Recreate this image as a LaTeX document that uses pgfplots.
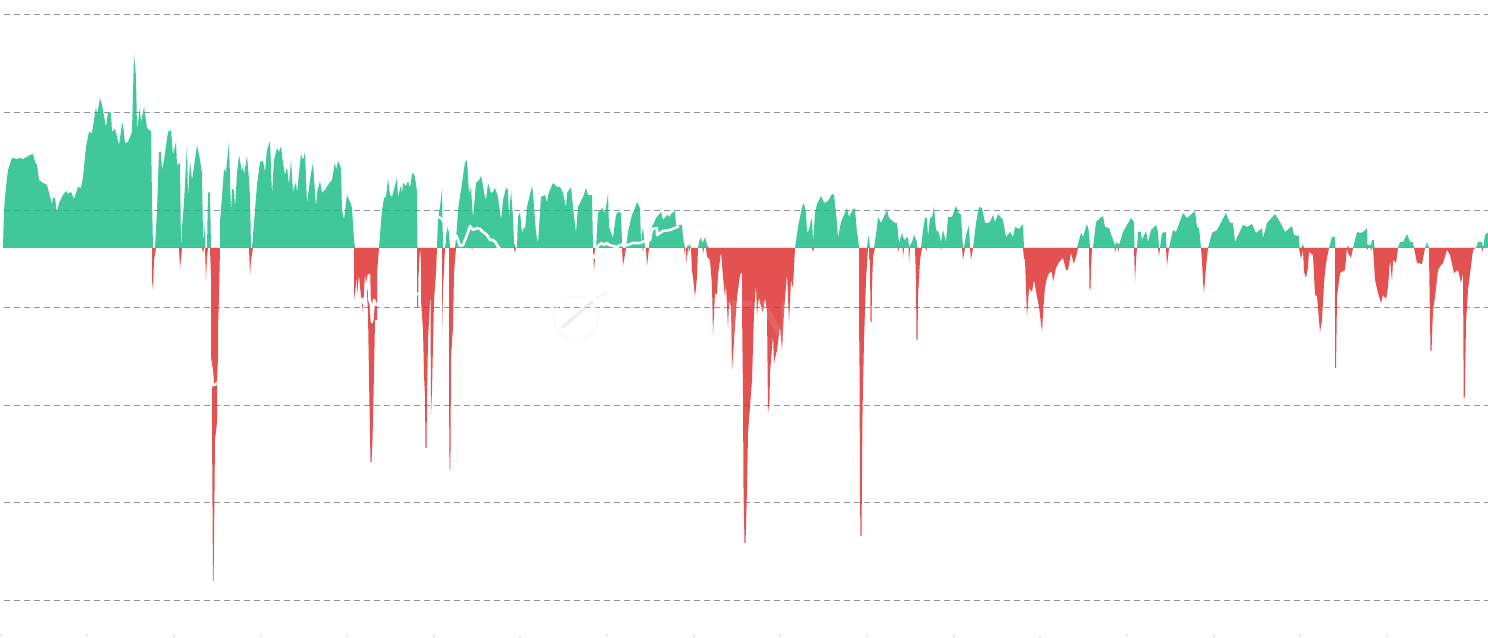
\documentclass[border=0pt]{standalone}
\usepackage{pgfplots}
\usepackage{pgfplotstable}
\usepackage{fontspec}
\setmainfont{Liberation Sans}
\pgfplotsset{compat=1.18}
\definecolor{upc}{HTML}{10B981}
\definecolor{downc}{HTML}{DC2626}
% x = pixel column, r = pixel row of the envelope (baseline at row 248)
\pgfplotstableread[row sep=crcr]{
x r\\
3 248\\ 4 210\\ 6 187\\ 8 170\\ 12 158\\ 17 159\\ 20 158\\ 23 159\\ 27 157\\ 30 155\\ 33 154\\ 35 162\\ 37 165\\ 39 180\\ 43 183\\ 47 185\\ 49 193\\ 52 204\\ 53 198\\ 55 198\\ 57 213\\ 59 203\\ 63 195\\ 66 191\\ 68 194\\ 71 192\\ 74 199\\ 78 187\\ 81 188\\ 83 177\\ 86 147\\ 89 132\\ 92 133\\ 96 107\\ 97 115\\ 100 98\\ 102 105\\ 106 127\\ 108 112\\ 111 113\\ 112 132\\ 115 129\\ 119 145\\ 122 124\\ 123 124\\ 125 143\\ 128 142\\ 132 132\\ 134 54\\ 136 77\\ 137 129\\ 140 108\\ 141 122\\ 144 107\\ 147 128\\ 149 130\\ 151 131\\ 152 200\\ 153 248\\
155 248\\ 157 210\\ 159 152\\ 161 152\\ 162 170\\ 164 160\\ 168 132\\ 171 130\\ 173 155\\ 176 142\\ 177 165\\ 180 163\\ 181 248\\ 182 227\\ 184 203\\ 187 145\\ 188 197\\ 190 162\\ 192 180\\ 197 145\\ 200 160\\ 202 173\\ 203 237\\ 204 237\\ 205 220\\ 205.5 248\\ 207 248\\ 208 193\\ 210 192\\ 211 248\\
220 248\\ 220 222\\ 223 183\\ 224 169\\ 226 172\\ 229 142\\ 231 213\\ 232 189\\ 234 190\\ 235 208\\ 237 173\\ 239 155\\ 242 172\\ 243 164\\ 244 175\\ 247 156\\ 249 180\\ 250 197\\ 251 248\\
252 248\\ 254 223\\ 257 185\\ 260 162\\ 263 161\\ 265 172\\ 267 150\\ 270 141\\ 272 195\\ 274 160\\ 277 148\\ 279 152\\ 281 146\\ 283 163\\ 285 175\\ 287 167\\ 289 185\\ 291 160\\ 293 192\\ 296 182\\ 297 193\\ 301 154\\ 303 160\\ 305 152\\ 307 203\\ 311 173\\ 313 163\\ 316 207\\ 317 193\\ 320 181\\ 322 193\\ 325 190\\ 328 185\\ 332 180\\ 335 162\\ 336 170\\ 338 161\\ 341 168\\ 342 210\\ 344 220\\ 347 195\\ 350 202\\ 352 208\\ 354 240\\ 355 248\\
379 248\\ 382 210\\ 384 198\\ 386 197\\ 388 179\\ 390 195\\ 392 197\\ 397 178\\ 398 197\\ 401 185\\ 402 194\\ 403 183\\ 406 186\\ 408 181\\ 410 188\\ 412 174\\ 413 173\\ 415 177\\ 417 192\\ 417.5 248\\
437 248\\ 438 218\\ 440 207\\ 442 189\\ 442.5 217\\ 443 248\\ 445 248\\ 446 237\\ 447 227\\ 449 232\\ 450 248\\
455 248\\ 457 227\\ 458 210\\ 462 183\\ 465 162\\ 467 160\\ 469 193\\ 471 188\\ 473 218\\ 476 183\\ 479 180\\ 481 176\\ 483 185\\ 484 193\\ 486 200\\ 488 183\\ 491 193\\ 493 192\\ 495 188\\ 498 197\\ 501 220\\ 503 200\\ 506 188\\ 508 190\\ 509 218\\ 511 190\\ 513 217\\ 514 243\\ 516 248\\
517 248\\ 518 217\\ 520 212\\ 522 233\\ 524 227\\ 525 230\\ 527 207\\ 532 186\\ 533 193\\ 536 233\\ 538 243\\ 541 197\\ 545 195\\ 547 203\\ 548 195\\ 553 183\\ 557 187\\ 560 187\\ 563 193\\ 566 207\\ 567 193\\ 571 187\\ 573 207\\ 576 233\\ 578 207\\ 583 197\\ 586 188\\ 588 195\\ 592 195\\ 593 248\\
596 248\\ 598 213\\ 602 208\\ 605 213\\ 608 194\\ 609 227\\ 613 238\\ 616 215\\ 618 212\\ 621 213\\ 622 243\\ 623 248\\ 626 248\\ 628 232\\ 632 215\\ 635 208\\ 637 202\\ 640 208\\ 641 243\\ 643 227\\ 645 248\\
649 248\\ 650 230\\ 654 223\\ 656 218\\ 661 212\\ 663 220\\ 667 215\\ 669 217\\ 672 213\\ 675 211\\ 676 225\\ 682 225\\ 683 237\\ 685 248\\ 687 248\\ 688 244\\ 689 247\\ 690 244\\ 691 248\\
698 248\\ 699 242\\ 701 237\\ 702 243\\ 704 240\\ 705 237\\ 707 245\\ 709 248\\
795 248\\ 798 227\\ 802 207\\ 804 203\\ 806 213\\ 807 232\\ 809 230\\ 811 220\\ 812 219\\ 813 242\\ 815 213\\ 817 204\\ 821 196\\ 824 203\\ 828 201\\ 832 194\\ 834 195\\ 837 223\\ 838 238\\ 841 222\\ 847 208\\ 849 217\\ 853 209\\ 855 209\\ 857 233\\ 858 237\\ 859 248\\
867 248\\ 868 237\\ 869 237\\ 870 248\\
874 248\\ 877 227\\ 878 217\\ 881 223\\ 887 210\\ 889 218\\ 895 223\\ 897 223\\ 899 243\\ 902 233\\ 904 240\\ 908 237\\ 909 247\\ 912 242\\ 914 235\\ 917 242\\ 917.5 248\\
921 248\\ 923 230\\ 925 218\\ 927 218\\ 928 237\\ 930 218\\ 932 217\\ 934 207\\ 936 230\\ 939 233\\ 941 242\\ 943 230\\ 946 242\\ 948 217\\ 952 217\\ 956 206\\ 958 212\\ 961 215\\ 963 248\\
964 248\\ 966 235\\ 969 225\\ 970 248\\
973 248\\ 976 223\\ 979 207\\ 982 208\\ 985 223\\ 988 223\\ 990 222\\ 993 215\\ 995 222\\ 998 214\\ 1003 220\\ 1006 237\\ 1010 232\\ 1013 237\\ 1015 227\\ 1019 229\\ 1023 224\\ 1024 248\\
1077 248\\ 1081 233\\ 1083 237\\ 1087 224\\ 1089 232\\ 1090 248\\
1093 248\\ 1096 222\\ 1100 218\\ 1103 216\\ 1105 227\\ 1109 228\\ 1112 237\\ 1115 245\\ 1117 242\\ 1119 245\\ 1123 232\\ 1131 218\\ 1134 222\\ 1134.5 248\\
1137 248\\ 1138 232\\ 1141 232\\ 1142 240\\ 1146 231\\ 1148 242\\ 1151 230\\ 1156 225\\ 1158 232\\ 1159 248\\ 1160 248\\ 1162 233\\ 1166 232\\ 1166.5 248\\
1169 248\\ 1173 230\\ 1176 232\\ 1183 213\\ 1187 218\\ 1195 211\\ 1197 227\\ 1199 228\\ 1201 248\\
1208 248\\ 1212 233\\ 1217 230\\ 1226 213\\ 1230 223\\ 1233 223\\ 1235 242\\ 1243 225\\ 1247 227\\ 1252 224\\ 1256 233\\ 1262 228\\ 1263 238\\ 1267 223\\ 1275 214\\ 1280 222\\ 1285 232\\ 1292 226\\ 1294 235\\ 1299 236\\ 1299.5 248\\
1301 248\\ 1303 244\\ 1304 248\\ 1329 248\\ 1332 237\\ 1335 237\\ 1335.5 248\\ 1347 248\\ 1348 245\\ 1349 248\\
1353 248\\ 1357 232\\ 1360 233\\ 1363 232\\ 1367 228\\ 1367.5 245\\ 1371 245\\ 1372 240\\ 1374 240\\ 1374.5 248\\
1398 248\\ 1400 242\\ 1403 242\\ 1407 234\\ 1410 242\\ 1413 242\\ 1414 248\\ 1425 248\\ 1427 242\\ 1429 248\\
1476 248\\ 1478 242\\ 1482 242\\ 1483 248\\ 1485 235\\ 1487 233\\ 1488 233\\ 1488 248\\
}\uptbl
\pgfplotstableread[row sep=crcr]{
x r\\
152 248\\ 152 280\\ 153 290\\ 154 260\\ 156 248\\ 179 248\\ 180 269\\ 182 248\\ 202 248\\ 203 253\\ 204 248\\ 205 248\\ 206 280\\ 207 257\\ 208 248\\
210 248\\ 211 278\\ 211 357\\ 213 370\\ 214 382\\ 212 388\\ 212 420\\ 212.5 507\\ 213 581\\ 213.6 581\\ 214 540\\ 215 440\\ 217 422\\ 217 397\\ 217 383\\ 218 357\\ 218 328\\ 219 297\\ 220 248\\
249 248\\ 250 275\\ 251 260\\ 253 248\\
354 248\\ 354 300\\ 357 278\\ 357 295\\ 359 275\\ 361 297\\ 363 312\\ 365 273\\ 367 293\\ 368 313\\ 369 377\\ 370.5 462\\ 371.5 462\\ 372.5 440\\ 374 373\\ 375 320\\ 377 320\\ 377 273\\ 379 248\\
417 248\\ 417 307\\ 418 307\\ 418.5 275\\ 420 248\\ 421 262\\ 421 300\\ 423 330\\ 424 375\\ 425 397\\ 425.5 448\\ 426.5 448\\ 427 397\\ 428 340\\ 430 300\\ 430.5 300\\ 431 415\\ 432 390\\ 434 300\\ 436 273\\ 437 248\\
442 248\\ 442 335\\ 443 290\\ 445 248\\ 449 248\\ 449 397\\ 449.6 470\\ 450.4 470\\ 451 357\\ 453 327\\ 454 273\\ 456 248\\
471.5 248\\ 472 250\\ 472.5 248\\ 514 248\\ 515 253\\ 516 248\\
593 248\\ 594 270\\ 596 248\\ 622 248\\ 623 266\\ 626 248\\ 642.5 248\\ 643 252\\ 643.5 248\\ 646 248\\ 647 266\\ 649 248\\
684 248\\ 685 255\\ 685.5 248\\ 686 248\\ 686.5 263\\ 688 248\\ 688.5 248\\ 689 253\\ 690 248\\
691 248\\ 692 271\\ 693 277\\ 695 297\\ 697 277\\ 698 248\\ 702.5 248\\ 703 254\\ 704 248\\
706 248\\ 707 257\\ 710 260\\ 712 285\\ 713 335\\ 715 293\\ 717 295\\ 718 275\\ 721 252\\ 723 277\\ 724 287\\ 725 297\\ 726 284\\ 728 328\\ 729 302\\ 731 307\\ 732 370\\ 735 327\\ 737 297\\ 740 275\\ 742 272\\ 742 307\\ 743 397\\ 743.5 490\\ 744.5 543\\ 745.5 543\\ 747 490\\ 748 433\\ 752 380\\ 754 313\\ 756 284\\ 757 315\\ 759 297\\ 760 303\\ 763 313\\ 765 298\\ 767 312\\ 768 413\\ 769.5 400\\ 770 373\\ 773 335\\ 774 363\\ 777 350\\ 780 327\\ 782 350\\ 784 312\\ 787 273\\ 789 323\\ 791 280\\ 793 288\\ 794 267\\ 795 248\\
812 248\\ 813 252\\ 814 248\\
859 248\\ 859 317\\ 859.5 367\\ 860 500\\ 860.5 536\\ 861.5 536\\ 862 470\\ 862.5 413\\ 864 340\\ 866 280\\ 868 248\\ 869 248\\ 869 259\\ 870 260\\ 870.5 322\\ 871.5 322\\ 872 287\\ 873 257\\ 875 248\\
897.5 248\\ 898 252\\ 899 248\\ 902.5 248\\ 903 257\\ 904 248\\ 908.5 248\\ 909 263\\ 910 248\\
915 248\\ 916 280\\ 916.5 340\\ 917.5 340\\ 918 297\\ 920 260\\ 922 248\\ 925.5 248\\ 926 251\\ 927 248\\ 940.5 248\\ 941 250\\ 941.5 248\\
962 248\\ 963 260\\ 965 248\\ 970 248\\ 971 260\\ 973 248\\
1023 248\\ 1024 259\\ 1025 260\\ 1027 317\\ 1029 288\\ 1032 292\\ 1034 280\\ 1037 297\\ 1039 307\\ 1042 332\\ 1043 313\\ 1045 287\\ 1047 278\\ 1049 273\\ 1052 272\\ 1053 282\\ 1056 268\\ 1059 262\\ 1063 258\\ 1066 270\\ 1068 270\\ 1071 253\\ 1074 264\\ 1077 253\\ 1078 248\\
1089 248\\ 1089.5 289\\ 1090.5 289\\ 1091 268\\ 1092 248\\ 1114.5 248\\ 1115 252\\ 1116 248\\ 1117.5 248\\ 1118 252\\ 1119 248\\
1134 248\\ 1135 282\\ 1136 260\\ 1137 248\\ 1158 248\\ 1159 256\\ 1160 248\\ 1166 248\\ 1167 266\\ 1169 248\\
1201 248\\ 1202 261\\ 1203 282\\ 1204 293\\ 1206 267\\ 1208 248\\
1299 248\\ 1301 259\\ 1303 250\\ 1304 272\\ 1306 278\\ 1308 267\\ 1309 252\\ 1313 255\\ 1315 295\\ 1317 296\\ 1320 332\\ 1322 320\\ 1324 283\\ 1326 263\\ 1329 248\\
1335 248\\ 1335 368\\ 1336 368\\ 1337 297\\ 1340 273\\ 1345 270\\ 1347 248\\ 1348 253\\ 1351 258\\ 1353 248\\ 1366.5 248\\ 1367 250\\ 1368 248\\ 1370.5 248\\ 1371 251\\ 1372 248\\
1373 248\\ 1375 280\\ 1378 293\\ 1381 303\\ 1383 295\\ 1386 299\\ 1388 287\\ 1390 260\\ 1392 281\\ 1393 260\\ 1396 263\\ 1398 248\\
1414 248\\ 1417 263\\ 1422 264\\ 1425 248\\
1429 248\\ 1429 255\\ 1430.5 351\\ 1431.5 351\\ 1433 310\\ 1435 297\\ 1438 270\\ 1441 265\\ 1443 263\\ 1447 250\\ 1450 255\\ 1454 273\\ 1458 270\\ 1461 283\\ 1463 273\\ 1463.7 398\\ 1464.7 398\\ 1466 323\\ 1468 290\\ 1473 250\\ 1475 248\\ 1481.5 248\\ 1482 253\\ 1483 248\\
}\downtbl
\begin{document}
\begin{tikzpicture}
\begin{axis}[
  width=1488pt, height=637pt, scale only axis,
  xmin=0, xmax=1488, ymin=-389, ymax=248,
  axis line style={draw=none},
  ytick=\empty,
  xtick={1,87,174,261,347,434,520,607,694,780,867,954,1040,1127,1214,1300,1387},
  xticklabel=\empty,
  xtick align=inside, xtick pos=bottom,
  major tick length=3pt,
  tick style={color=black!8, line width=1.5pt},
]
% horizontal grid
\pgfplotsinvokeforeach{233.5,135.5,37.5,-59.5,-157.5,-254.5,-352.5}{
  \addplot[forget plot, color=black!42, line width=1pt, dash pattern=on 6pt off 4pt] coordinates {(4,#1) (1488,#1)};
}
\addplot[forget plot, draw=none, fill=upc, fill opacity=0.8] table[x=x, y expr=248-\thisrow{r}] {\uptbl};
\addplot[forget plot, draw=none, fill=downc, fill opacity=0.8] table[x=x, y expr=248-\thisrow{r}] {\downtbl};
% white overlaid line
\addplot[forget plot, white, line width=2.6pt, line join=round] coordinates {(456,13)(458,8)(460,2)(463,3)(467,13)(470,22)(473,18)(477,20)(480,19)(483,16)(487,13)(490,8)(493,8)(496,5)(498,1)(500,0)};
\addplot[forget plot, white, line width=2.6pt, line join=round] coordinates {(437,32)(442,29)(445,23)(447,26)(445,16)(444,3)};
\addplot[forget plot, white, line width=2.6pt, line join=round] coordinates {(593,-7)(595,-10)(597,1)(599,3)(602,5)(604,3)(607,5)(609,3)(613,2)(617,1)(620,3)(628,3)(633,5)(640,5)(645,7)(650,8)(652,19)(657,20)(657,13)(663,17)(670,18)(675,20)(679,22)};
\addplot[forget plot, white, line width=2.6pt] coordinates {(209,-136)(214,-137)(219,-134)};
\addplot[forget plot, white, line width=2.6pt, line join=round] coordinates {(361,-50)(364,-56)(366,-42)(369,-27)(369.5,-52)(371,-57)(372,-74)(374,-52)(376,-57)(380,-55)};
\addplot[forget plot, white, line width=2.6pt] coordinates {(413,-47)(421,-45)};
% faint watermark
\node[text=white, opacity=0.1, font=\bfseries\fontsize{56}{56}\selectfont, inner sep=0pt] at (axis cs:756,-72) {TN};
\draw[color=blue!3, line width=1pt] (axis cs:576,-70) ellipse[x radius=22pt, y radius=22pt];
\draw[color=blue!12, line width=3pt, line cap=round, opacity=0.6] (axis cs:563,-79) -- (axis cs:592,-54);
\draw[color=black!8, line width=2pt, opacity=0.6] (axis cs:597,-50) -- (axis cs:607,-44);
\coordinate (pagesw) at (axis cs:0,-389);
\coordinate (pagene) at (axis cs:1488,248);
\end{axis}
\pgfresetboundingbox
\path[use as bounding box] (pagesw) rectangle (pagene);
\end{tikzpicture}
\end{document}
